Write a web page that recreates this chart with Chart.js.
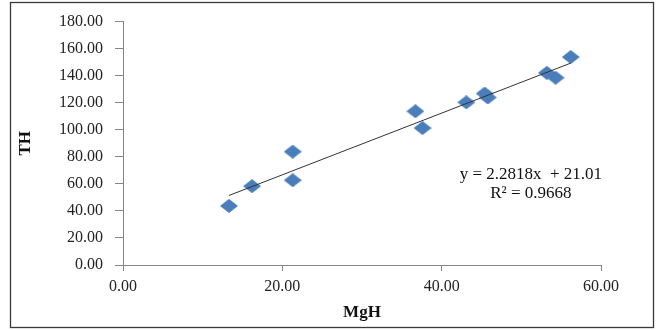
<!DOCTYPE html>
<html lang="en">
<head>
<meta charset="UTF-8">
<title>TH vs MgH</title>
<script src="https://cdn.jsdelivr.net/npm/chart.js@4/dist/chart.umd.min.js"></script>
<style>
  html, body { margin: 0; padding: 0; background: #fff; }
</style>
</head>
<body>
<canvas id="myChart" width="662" height="330"></canvas>
<script>
// measured points (MgH on x, TH on y)
var mgH = [13.3, 16.2, 21.3, 21.3, 36.7, 37.6, 43.1, 45.4, 45.8, 53.2, 54.3, 56.2];
var tH  = [43.7, 58.3, 62.7, 83.8, 113.7, 101.3, 120.3, 126.8, 123.9, 142.1, 138.5, 153.8];

// trend line end points as drawn in the picture
var trendX = [13.3, 56.2];
var trendY = [51.4, 149.3];

var xTicks = [0, 20, 40, 60];
var yTicks = [0, 20, 40, 60, 80, 100, 120, 140, 160, 180];

var eqLines = ['y = 2.2818x  + 21.01', 'R\u00b2 = 0.9668'];
var eqX = 51.2;
var eqY = [67, 52.5];

var serif = "'Liberation Serif', 'Times New Roman', serif";

// wide diamond marker
var diamond = document.createElement('canvas');
diamond.width = 18;
diamond.height = 14;
var dctx = diamond.getContext('2d');
dctx.fillStyle = '#4A7EBB';
dctx.beginPath();
dctx.moveTo(9, 0);
dctx.lineTo(18, 7);
dctx.lineTo(9, 14);
dctx.lineTo(0, 7);
dctx.closePath();
dctx.fill();

var points = [];
for (var i = 0; i < mgH.length; i++) {
    points.push({x: mgH[i], y: tH[i]});
}
var trend = [];
for (var j = 0; j < trendX.length; j++) {
    trend.push({x: trendX[j], y: trendY[j]});
}

var framePlugin = {
    id: 'frame',
    afterDraw: function (chart) {
        var ctx = chart.ctx;
        ctx.save();
        ctx.strokeStyle = '#3a3a3a';
        ctx.lineWidth = 1.3;
        ctx.strokeRect(10.5, 2.5, 643, 325);
        ctx.restore();
    }
};

var equationPlugin = {
    id: 'equation',
    afterDatasetsDraw: function (chart) {
        var ctx = chart.ctx;
        var px = chart.scales.x.getPixelForValue(eqX);
        ctx.save();
        ctx.fillStyle = '#111';
        ctx.font = '17px ' + serif;
        ctx.textAlign = 'center';
        ctx.textBaseline = 'middle';
        for (var k = 0; k < eqLines.length; k++) {
            ctx.fillText(eqLines[k], px, chart.scales.y.getPixelForValue(eqY[k]));
        }
        ctx.restore();
    }
};

var ctx = document.getElementById('myChart').getContext('2d');
var myChart = new Chart(ctx, {
    type: 'scatter',
    data: {
        datasets: [
            {
                label: 'trend',
                data: trend,
                showLine: true,
                borderColor: '#333333',
                borderWidth: 1,
                pointRadius: 0,
                fill: false
            },
            {
                label: 'TH',
                data: points,
                pointStyle: diamond,
                pointRadius: 8,
                backgroundColor: '#4A7EBB'
            }
        ]
    },
    options: {
        responsive: false,
        animation: false,
        devicePixelRatio: 1,
        layout: { padding: { left: 0, top: 18, right: 61, bottom: 0 } },
        plugins: {
            legend: { display: false },
            tooltip: { enabled: false }
        },
        scales: {
            x: {
                type: 'linear',
                position: 'bottom',
                min: 0,
                max: 60,
                afterBuildTicks: function (s) {
                    s.ticks = xTicks.map(function (v) { return {value: v}; });
                },
                afterFit: function (s) { s.height = 65; },
                ticks: {
                    callback: function (v) { return v.toFixed(2); },
                    font: { family: serif, size: 16 },
                    color: '#222',
                    padding: 6,
                    maxRotation: 0
                },
                grid: {
                    display: true,
                    drawOnChartArea: false,
                    drawTicks: true,
                    tickLength: 6,
                    color: '#868686'
                },
                border: { color: '#868686', width: 1 },
                title: {
                    display: true,
                    text: 'MgH',
                    color: '#111',
                    font: { family: serif, size: 17, weight: 'bold' },
                    padding: { top: 0, bottom: 7 }
                }
            },
            y: {
                min: 0,
                max: 180,
                afterBuildTicks: function (s) {
                    s.ticks = yTicks.map(function (v) { return {value: v}; });
                },
                afterFit: function (s) { s.width = 123; },
                ticks: {
                    callback: function (v) { return v.toFixed(2); },
                    font: { family: serif, size: 16 },
                    color: '#222',
                    padding: 12
                },
                grid: {
                    display: true,
                    drawOnChartArea: false,
                    drawTicks: true,
                    tickLength: 8,
                    color: '#868686'
                },
                border: { color: '#868686', width: 1 },
                title: {
                    display: true,
                    text: 'TH',
                    color: '#111',
                    font: { family: serif, size: 17, weight: 'bold' },
                    padding: { top: 15, bottom: 0 }
                }
            }
        }
    },
    plugins: [framePlugin, equationPlugin]
});
</script>
</body>
</html>
